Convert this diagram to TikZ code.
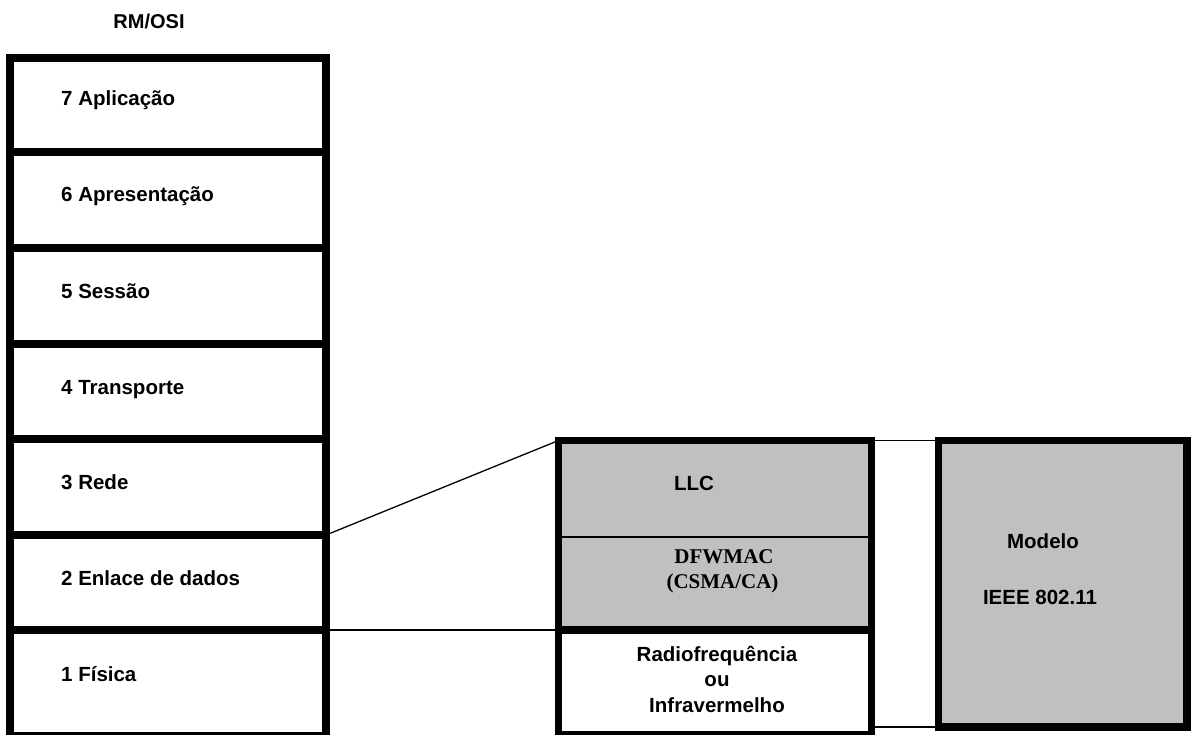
\documentclass[tikz,border=0pt]{standalone}
\usepackage{fontspec}
\setmainfont{Liberation Sans}
\newfontfamily\serifbold{Liberation Serif}
\definecolor{boxgray}{RGB}{192,192,192}
\tikzset{
  layer/.style={draw=black, line width=7.5pt, fill=white, rectangle, inner sep=0pt, outer sep=0pt, minimum width=316pt},
  graybox/.style={draw=black, line width=7.5pt, fill=boxgray, rectangle, inner sep=0pt, outer sep=0pt},
  whitebox/.style={draw=black, line width=7.5pt, fill=white, rectangle, inner sep=0pt, outer sep=0pt},
  lbl/.style={font=\fontsize{20.5}{25}\selectfont\bfseries, inner sep=0pt, anchor=base west},
  clbl/.style={font=\fontsize{20.5}{25}\selectfont\bfseries, inner sep=0pt, anchor=base},
  slbl/.style={font=\fontsize{21}{25}\selectfont\serifbold\bfseries, inner sep=0pt, anchor=base},
  link/.style={draw=black, line width=1.3pt}
}
\begin{document}
\begin{tikzpicture}[x=1pt,y=-1pt]
\useasboundingbox (0,0) rectangle (1193,735);
% title
\node[clbl, font=\fontsize{20}{24}\selectfont\bfseries] (title) at (149,29) {RM/OSI};
% left stack
\node[layer, minimum height=94pt] (L7) at (168,105) {};
\node[layer, minimum height=96pt] (L6) at (168,200) {};
\node[layer, minimum height=96pt] (L5) at (168,296) {};
\node[layer, minimum height=95pt] (L4) at (168,391.5) {};
\node[layer, minimum height=96pt] (L3) at (168,487) {};
\node[layer, minimum height=95pt] (L2) at (168,582.5) {};
\node[layer, minimum height=106pt] (L1) at (168,683) {};
\node[lbl] (t7) at (61,106) {7 Aplicação};
\node[lbl] (t6) at (61,202) {6 Apresentação};
\node[lbl] (t5) at (61,298) {5 Sessão};
\node[lbl] (t4) at (61,394) {4 Transporte};
\node[lbl] (t3) at (61,489) {3 Rede};
\node[lbl] (t2) at (61,585) {2 Enlace de dados};
\node[lbl] (t1) at (61,681) {1 Física};
% middle stack
\node[graybox, minimum width=313pt, minimum height=189.5pt] (MAC) at (715,535.25) {};
\node[whitebox, minimum width=313pt, minimum height=105pt] (PHY) at (715,682.5) {};
\coordinate (sepW) at (558.5,537);
\coordinate (sepE) at (871.5,537);
\draw[link] (sepW) -- (sepE);
\node[clbl] (llc) at (694,490) {LLC};
\node[slbl] (dfw1) at (724,563) {DFWMAC};
\node[slbl] (dfw2) at (722.5,588) {(CSMA/CA)};
\node[clbl] (ph1) at (717,661.5) {Radiofrequência};
\node[clbl] (ph2) at (717,686.5) {ou};
\node[clbl] (ph3) at (717,712.5) {Infravermelho};
% right box
\node[graybox, minimum width=248.5pt, minimum height=286.5pt] (IEEE) at (1062.75,583.75) {};
\node[clbl] (m1) at (1043,548) {Modelo};
\node[clbl] (m2) at (1040,604) {IEEE 802.11};
% connectors
\draw[link] (L3.south east) -- (MAC.north west);
\draw[link] (L2.south east) -- (PHY.north west);
\draw[link] (MAC.north east) -- (IEEE.north west);
\draw[link] (IEEE.south west) -- (IEEE.south west -| PHY.east);
\end{tikzpicture}
\end{document}
